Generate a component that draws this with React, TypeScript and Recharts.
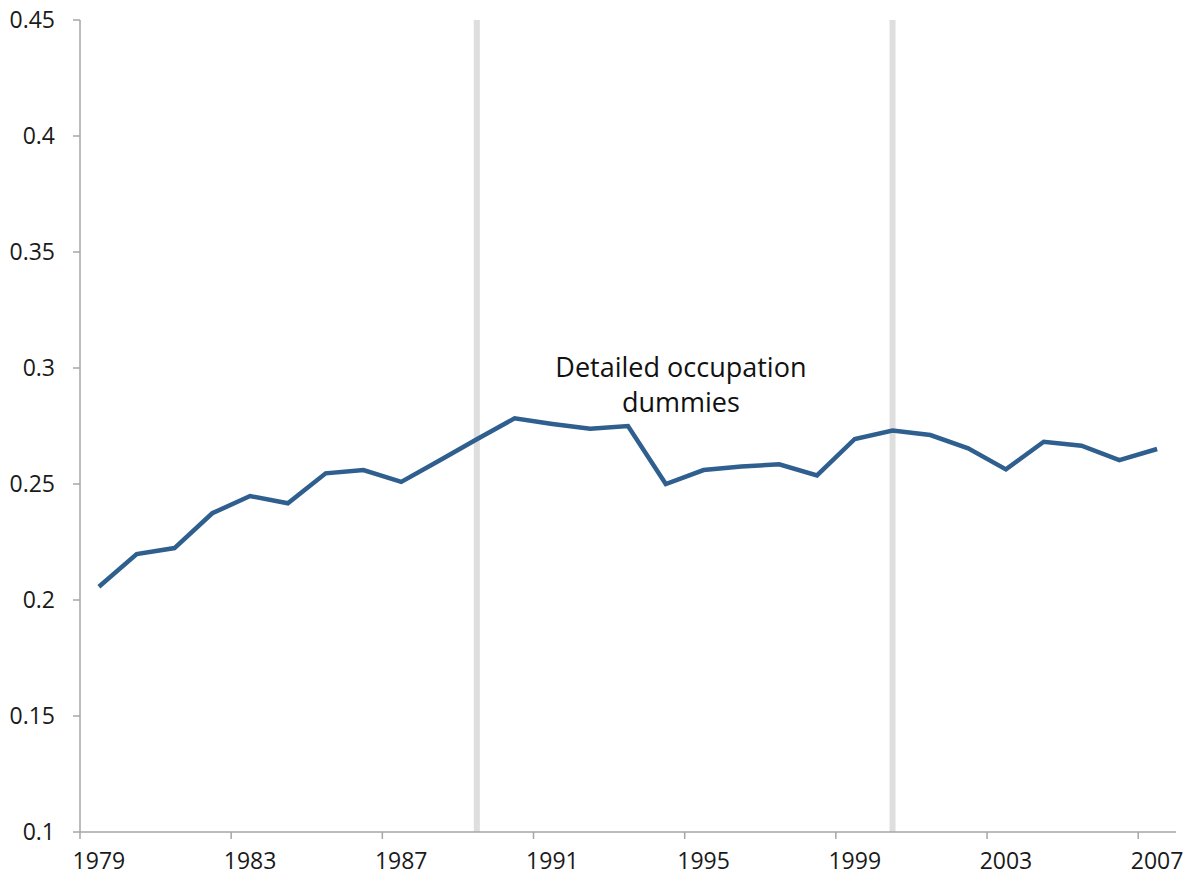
import React from 'react';
import { LineChart, Line, XAxis, YAxis, ReferenceLine, ReferenceDot } from 'recharts';

const years = [
  1979, 1980, 1981, 1982, 1983, 1984, 1985, 1986, 1987, 1988,
  1989, 1990, 1991, 1992, 1993, 1994, 1995, 1996, 1997, 1998,
  1999, 2000, 2001, 2002, 2003, 2004, 2005, 2006, 2007,
];

const values = [
  0.2057, 0.2198, 0.2224, 0.2374, 0.2448, 0.2417, 0.2546, 0.256, 0.2509, 0.26,
  0.2693, 0.2783, 0.2759, 0.2738, 0.275, 0.25, 0.256, 0.2575, 0.2585, 0.2537,
  0.2694, 0.273, 0.2711, 0.2654, 0.2563, 0.2682, 0.2665, 0.2603, 0.2651,
];

const xTicks = [1979, 1983, 1987, 1991, 1995, 1999, 2003, 2007];
const yTicks = [0.1, 0.15, 0.2, 0.25, 0.3, 0.35, 0.4, 0.45];
const breakYears = [1989, 2000];
const noteLines = ['Detailed occupation', 'dummies'];

const data = years.map((year, i) => ({ year, value: values[i] }));

const W = 1189;
const H = 882;
const margin = { top: 20, right: 13, bottom: 0, left: 0 };
const yAxisWidth = 80;
const plotWidth = W - margin.left - margin.right - yAxisWidth;
const step = plotWidth / years.length;

const FONT = '"Open Sans", sans-serif';
const AXIS = '#a6a6a6';

// label sits on the category, tick mark sits on the boundary before it
const YearTick = (props: any) => {
  const { x, y, payload } = props;
  const axisY = y - 8;
  return (
    <g>
      <line x1={x - step / 2} x2={x - step / 2} y1={axisY} y2={axisY + 7} stroke={AXIS} strokeWidth={1.5} />
      <text x={x} y={axisY + 37} textAnchor="middle" fontSize={23} fontFamily={FONT} fill="#1a1a1a">
        {payload.value}
      </text>
    </g>
  );
};

const Note = (props: any) => {
  const { cx, cy } = props;
  return (
    <g>
      {noteLines.map((t, i) => (
        <text key={t} x={cx} y={cy - 8 + i * 35} textAnchor="middle" fontSize={27} fontFamily={FONT} fill="#111">
          {t}
        </text>
      ))}
    </g>
  );
};

export default function App() {
  return (
    <div style={{ position: 'absolute', left: 0, top: 0, background: '#fff' }}>
      <LineChart width={W} height={H} data={data} margin={margin}>
        <XAxis
          dataKey="year"
          type="number"
          domain={[1978.5, 2007.5]}
          ticks={xTicks}
          tickLine={false}
          tick={<YearTick />}
          stroke={AXIS}
          strokeWidth={1.5}
          height={50}
          interval={0}
        />
        <YAxis
          type="number"
          domain={[0.1, 0.45]}
          ticks={yTicks}
          width={yAxisWidth}
          tickSize={7}
          tickMargin={18}
          stroke={AXIS}
          strokeWidth={1.5}
          tick={{ fontSize: 23, fontFamily: FONT, fill: '#1a1a1a' }}
          interval={0}
        />
        {breakYears.map((yr) => (
          <ReferenceLine key={yr} x={yr} stroke="#dedede" strokeWidth={6} />
        ))}
        <Line
          type="linear"
          dataKey="value"
          stroke="#2e5f8e"
          strokeWidth={4.5}
          dot={false}
          isAnimationActive={false}
        />
        <ReferenceDot x={1994.4} y={0.2925} r={0} shape={<Note />} />
      </LineChart>
    </div>
  );
}
